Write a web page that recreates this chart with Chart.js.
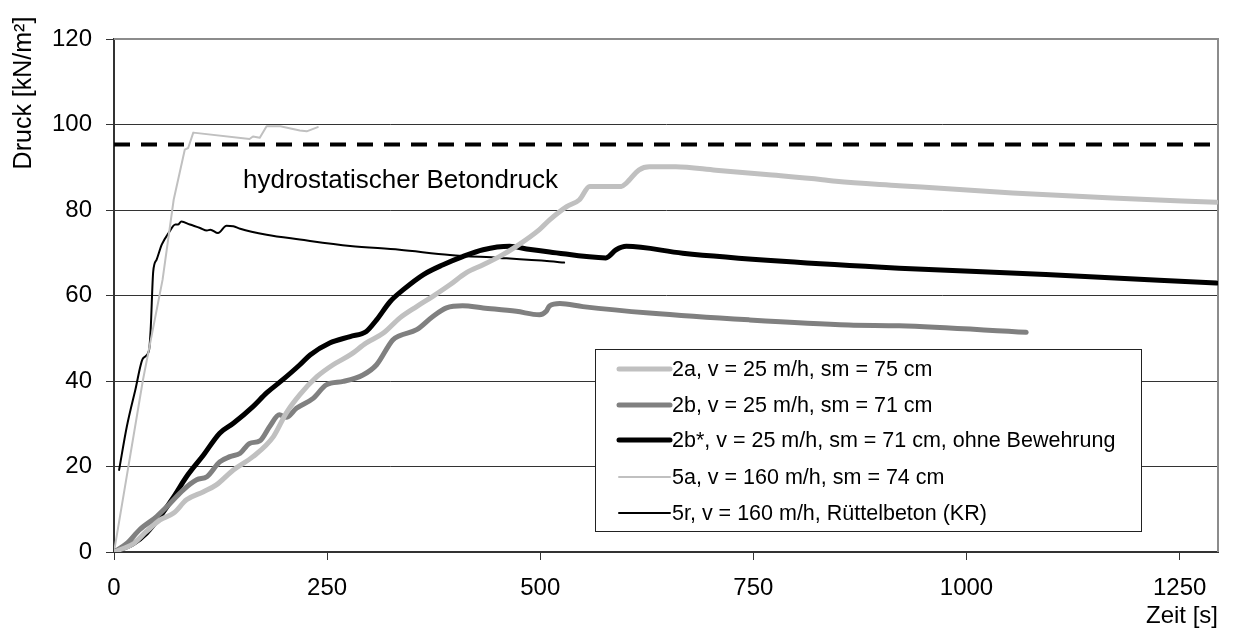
<!DOCTYPE html>
<html>
<head>
<meta charset="utf-8">
<script src="https://cdn.jsdelivr.net/npm/chart.js@4.4.0/dist/chart.umd.min.js"></script>
<style>
  html, body { margin: 0; padding: 0; background: #fff; }
  #wrap { width: 1234px; height: 631px; }
</style>
</head>
<body>
<div id="wrap"><canvas id="c" width="1234" height="631"></canvas></div>
<script>
const FONT = "'Liberation Sans', Arial, sans-serif";

// Axis ticks
const xTickValues = [0, 250, 500, 750, 1000, 1250];
const yTickStep = 20;

// Series 2a: v = 25 m/h, sm = 75 cm
const t2a = [0, 23, 38, 54, 70, 85, 105, 120, 140, 163, 187, 202, 218, 238, 257, 277, 296, 316, 335, 355, 374, 394, 413, 433, 452, 472, 499, 511, 531, 546, 558, 595, 601, 616, 628, 659, 706, 765, 831, 847, 921, 1054, 1171, 1293];
const p2a = [0, 2, 4.8, 7.5, 9.1, 12.2, 14.1, 15.7, 19.2, 22.3, 27, 32.5, 36.8, 41, 43.8, 46.1, 48.9, 51.2, 54.7, 57.4, 59.8, 62.5, 65.3, 67.2, 69.1, 71.5, 75.4, 77.7, 80.8, 82.4, 85.5, 85.5, 86.3, 89.4, 90.1, 90.1, 89.3, 88.3, 87.1, 86.7, 85.7, 84.0, 82.8, 81.8];

// Series 2b: v = 25 m/h, sm = 71 cm
const t2b = [0, 15, 30, 50, 66, 81, 97, 109, 124, 136, 148, 159, 171, 183, 194, 202, 214, 234, 249, 269, 292, 308, 327, 335, 355, 374, 390, 409, 433, 472, 499, 507, 511, 523, 550, 628, 745, 862, 921, 1070];
const p2b = [0, 2, 5.2, 8.3, 11.4, 14.5, 16.9, 17.6, 21.1, 22.3, 23.1, 25.4, 26, 29.5, 32.1, 31.5, 33.6, 36, 39.1, 39.9, 41.4, 43.8, 49.6, 50.6, 52, 55.1, 57.1, 57.6, 57.1, 56.3, 55.5, 56.3, 57.6, 58.1, 57.4, 55.9, 54.3, 53.1, 52.9, 51.4];

// Series 2b*: v = 25 m/h, sm = 71 cm, without reinforcement
const t2bs = [0, 23, 38, 54, 70, 85, 105, 124, 140, 163, 179, 198, 218, 230, 253, 277, 296, 308, 324, 339, 363, 386, 409, 433, 464, 484, 511, 577, 589, 601, 667, 784, 921, 1093, 1293];
const p2bs = [0, 2, 4.4, 8.3, 12.9, 17.6, 22.7, 27.8, 30.1, 34, 37.2, 40.3, 43.8, 46.1, 48.9, 50.4, 51.6, 54.3, 58.6, 61.3, 64.9, 67.2, 69.1, 70.7, 71.5, 70.9, 70.2, 68.8, 70.7, 71.5, 69.9, 68.0, 66.4, 64.9, 62.9];

// Series 5a: v = 160 m/h, sm = 74 cm
const t5a = [0, 34, 57, 70, 83, 87, 93, 159, 163, 171, 179, 195, 218, 226, 239];
const p5a = [0, 40.3, 63.7, 82.4, 94.1, 94.5, 98.1, 96.6, 97.2, 96.9, 99.6, 99.6, 98.6, 98.4, 99.4];

// Series 5r: v = 160 m/h, vibrated concrete
const t5r = [6, 15, 25, 34, 41, 43, 46, 50, 56, 64, 72, 75, 79, 89, 101, 109, 113, 122, 132, 140, 148, 179, 218, 277, 335, 394, 452, 511, 528];
const p5r = [19.2, 29.3, 37.9, 45.3, 47.1, 52, 65.6, 68.4, 71.9, 74.6, 76.6, 76.6, 77.3, 76.6, 75.8, 75.2, 75.4, 74.6, 76.3, 76.2, 75.6, 74.2, 73.1, 71.6, 70.7, 69.5, 68.8, 68.0, 67.7];

// Hydrostatic concrete pressure
const tHydro = [0, 1295];
const pHydro = [95.3, 95.3];

const labels = [
  '2a, v = 25 m/h, sm = 75 cm',
  '2b, v = 25 m/h, sm = 71 cm',
  '2b*, v = 25 m/h, sm = 71 cm, ohne Bewehrung',
  '5a, v = 160 m/h, sm = 74 cm',
  '5r, v = 160 m/h, Rüttelbeton (KR)'
];

const pts = (t, p) => t.map((x, i) => ({ x: x, y: p[i] }));

const baseLine = {
  pointRadius: 0,
  fill: false,
  borderJoinStyle: 'round',
  borderCapStyle: 'round',
  showInLegend: true
};

const datasets = [
  Object.assign({}, baseLine, { label: labels[0], data: pts(t2a, p2a), borderColor: '#c0c0c0', borderWidth: 5, cubicInterpolationMode: 'monotone' }),
  Object.assign({}, baseLine, { label: labels[1], data: pts(t2b, p2b), borderColor: '#808080', borderWidth: 5, cubicInterpolationMode: 'monotone' }),
  Object.assign({}, baseLine, { label: labels[2], data: pts(t2bs, p2bs), borderColor: '#000000', borderWidth: 5, cubicInterpolationMode: 'monotone' }),
  Object.assign({}, baseLine, { label: labels[3], data: pts(t5a, p5a), borderColor: '#c0c0c0', borderWidth: 2, tension: 0 }),
  Object.assign({}, baseLine, { label: labels[4], data: pts(t5r, p5r), borderColor: '#000000', borderWidth: 2, cubicInterpolationMode: 'monotone' }),
  { label: 'hydrostatischer Betondruck', data: pts(tHydro, pHydro), borderColor: '#000000', borderWidth: 4, borderDash: [16, 11], pointRadius: 0, fill: false, showInLegend: false }
];

// Plot frame (top / right), annotation, axis titles, legend box
const framePlugin = {
  id: 'frame',
  beforeDatasetsDraw(chart) {
    const { ctx, chartArea: a } = chart;
    ctx.save();
    ctx.strokeStyle = '#8c8c8c';
    ctx.lineWidth = 2;
    ctx.beginPath();
    ctx.moveTo(a.left, a.top);
    ctx.lineTo(a.right, a.top);
    ctx.lineTo(a.right, a.bottom);
    ctx.stroke();
    ctx.restore();
  },
  afterDatasetsDraw(chart) {
    const { ctx } = chart;
    ctx.save();
    ctx.fillStyle = '#000';
    ctx.textBaseline = 'alphabetic';
    // annotation under the dashed line
    ctx.font = '26px ' + FONT;
    ctx.textAlign = 'left';
    ctx.fillText('hydrostatischer Betondruck', 243, 188);
    // axis titles
    ctx.font = '24px ' + FONT;
    ctx.textAlign = 'right';
    ctx.fillText('Zeit [s]', chart.chartArea.right, 623);
    ctx.font = '25px ' + FONT;
    ctx.translate(31, 93);
    ctx.rotate(-Math.PI / 2);
    ctx.textAlign = 'center';
    ctx.fillText('Druck [kN/m²]', 0, 0);
    ctx.restore();

    // legend box inside the plot
    const box = { x: 595, y: 349, w: 546, h: 182 };
    ctx.save();
    ctx.fillStyle = '#fff';
    ctx.fillRect(box.x, box.y, box.w, box.h);
    ctx.strokeStyle = '#222';
    ctx.lineWidth = 1;
    ctx.strokeRect(box.x + 0.5, box.y + 0.5, box.w, box.h);
    ctx.font = '21.5px ' + FONT;
    ctx.textBaseline = 'middle';
    ctx.textAlign = 'left';
    const rows = [369, 405, 440, 477, 513];
    let r = 0;
    chart.data.datasets.forEach((ds) => {
      if (!ds.showInLegend) return;
      const y = rows[r++];
      ctx.strokeStyle = ds.borderColor;
      ctx.lineWidth = ds.borderWidth;
      ctx.lineCap = 'round';
      ctx.beginPath();
      ctx.moveTo(619, y);
      ctx.lineTo(670, y);
      ctx.stroke();
      ctx.fillStyle = '#000';
      ctx.fillText(ds.label, 672, y + 1);
    });
    ctx.restore();
  }
};

new Chart(document.getElementById('c'), {
  type: 'line',
  data: { datasets: datasets },
  options: {
    responsive: false,
    animation: false,
    devicePixelRatio: 1,
    layout: { padding: { left: 0, top: 39, right: 16, bottom: 0 } },
    plugins: { legend: { display: false }, tooltip: { enabled: false } },
    scales: {
      x: {
        type: 'linear',
        min: 0,
        max: 1295,
        afterBuildTicks: (s) => { s.ticks = xTickValues.map(v => ({ value: v })); },
        afterFit: (s) => { s.height = 79; },
        grid: { drawOnChartArea: false, drawTicks: true, tickLength: 8, tickColor: '#333', lineWidth: 1 },
        border: { display: true, color: '#333', width: 2 },
        ticks: { color: '#000', font: { family: FONT, size: 24 }, padding: 14, maxRotation: 0, autoSkip: false, callback: (v) => String(v) }
      },
      y: {
        type: 'linear',
        min: 0,
        max: 120,
        afterFit: (s) => { s.width = 114; },
        grid: {
          drawOnChartArea: true,
          drawTicks: true,
          tickLength: 8,
          tickColor: '#333',
          color: (c) => (c.tick && c.tick.value === 120 ? 'rgba(0,0,0,0)' : '#333'),
          lineWidth: 1
        },
        border: { display: true, color: '#333', width: 2 },
        ticks: { stepSize: yTickStep, color: '#000', font: { family: FONT, size: 24 }, padding: 14, callback: (v) => String(v) }
      }
    }
  },
  plugins: [framePlugin]
});
</script>
</body>
</html>
